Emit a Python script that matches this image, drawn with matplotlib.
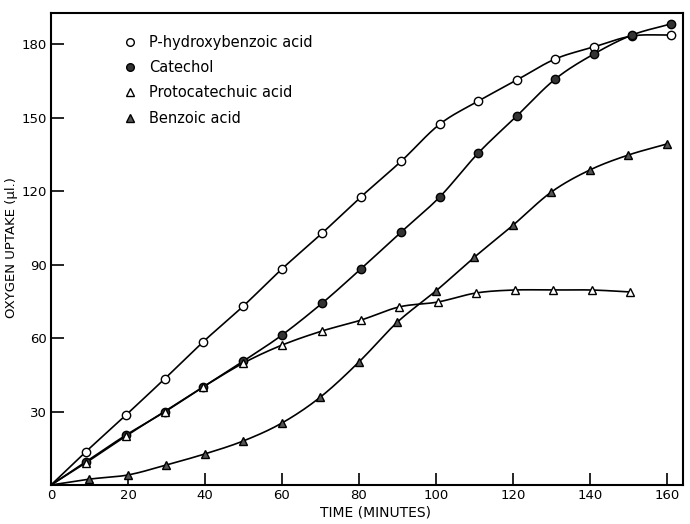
import numpy as np
import matplotlib
matplotlib.use("Agg")
import matplotlib.pyplot as plt
from matplotlib.lines import Line2D

# ---- data ----
time_min = [9, 19.5, 29.5, 39.5, 50, 60, 70.5, 80.5, 91, 101, 111, 121, 131, 141, 151, 161]
phb_uptake = [13.5, 28.6, 43.3, 58.4, 73.1, 88.2, 102.9, 117.6, 132.2, 147.3, 156.7, 165.3, 173.9, 178.8, 183.3, 183.7]
catechol_uptake = [9.4, 20.4, 29.8, 40.0, 50.6, 61.2, 74.3, 88.2, 103.3, 117.6, 135.5, 150.6, 165.7, 175.9, 183.7, 188.2]

proto_time = [9, 19.5, 29.5, 39.5, 50, 60, 70.5, 80.5, 90.5, 100.5, 110.5, 120.5, 130.5, 140.5, 150.5]
proto_uptake = [9.0, 20.0, 30.0, 40.0, 49.8, 57.1, 62.9, 67.3, 72.7, 74.7, 78.4, 79.6, 79.6, 79.6, 78.8]

benzoic_time = [10, 20, 30, 40, 50, 60, 70, 80, 90, 100, 110, 120, 130, 140, 150, 160]
benzoic_uptake = [2.4, 4.1, 8.2, 12.7, 18.0, 25.3, 35.9, 50.2, 66.5, 79.2, 93.0, 106.0, 119.6, 128.6, 134.7, 139.2]

labels = ["P-hydroxybenzoic acid", "Catechol", "Protocatechuic acid", "Benzoic acid"]
x_ticks = [0, 20, 40, 60, 80, 100, 120, 140, 160]
y_ticks = [30, 60, 90, 120, 150, 180]


def smooth(x, y, n=16):
    """Catmull-Rom curve through the points (starting from the origin)."""
    P = np.column_stack([np.r_[0.0, x], np.r_[0.0, y]])
    P = np.vstack([2 * P[0] - P[1], P, 2 * P[-1] - P[-2]])
    out = []
    t = np.linspace(0, 1, n, endpoint=False)[:, None]
    for i in range(1, len(P) - 2):
        p0, p1, p2, p3 = P[i - 1], P[i], P[i + 1], P[i + 2]
        seg = 0.5 * ((2 * p1) + (-p0 + p2) * t + (2 * p0 - 5 * p1 + 4 * p2 - p3) * t ** 2
                     + (-p0 + 3 * p1 - 3 * p2 + p3) * t ** 3)
        out.append(seg)
    out.append(P[-2][None])
    c = np.vstack(out)
    return c[:, 0], c[:, 1]


W, H = 690, 524
fig = plt.figure(figsize=(W / 100, H / 100), dpi=100)
ax = fig.add_axes([51 / W, 1 - 485 / H, (683 - 51) / W, (485 - 12.7) / H])

series = [
    (time_min, phb_uptake, dict(marker="o", mfc="white", mec="black")),
    (time_min, catechol_uptake, dict(marker="o", mfc="#333333", mec="black")),
    (proto_time, proto_uptake, dict(marker="^", mfc="white", mec="black")),
    (benzoic_time, benzoic_uptake, dict(marker="^", mfc="#555555", mec="black")),
]

for x, y, st in series:
    sx, sy = smooth(x, y)
    ax.plot(sx, sy, color="black", lw=1.2, zorder=2)
    ax.plot(x, y, linestyle="none", ms=6, mew=1.0, zorder=3, **st)

ax.set_xlim(0, 164.2)
ax.set_ylim(0, 192.8)
ax.set_xticks(x_ticks)
ax.set_yticks(y_ticks)
ax.tick_params(direction="in", length=9, width=1.2, labelsize=9.5, pad=3)
for s in ax.spines.values():
    s.set_linewidth(1.5)

fig.text(375 / W, 1 - 513 / H, "TIME (MINUTES)", ha="center", va="center", fontsize=10)
fig.text(12 / W, 1 - 248 / H, "OXYGEN UPTAKE (\u03bcl.)", ha="center", va="center",
         rotation=90, fontsize=9.5)

handles = [Line2D([], [], linestyle="none", ms=5.5, mew=1.0, **st) for _, _, st in series]
fig.legend(handles, labels, loc="upper left", bbox_to_anchor=(124 / W, 1 - 35 / H),
           frameon=False, fontsize=10.5, handlelength=0.8, handletextpad=0.9,
           labelspacing=0.7, borderpad=0, borderaxespad=0)

fig.savefig("out.png", dpi=100)
